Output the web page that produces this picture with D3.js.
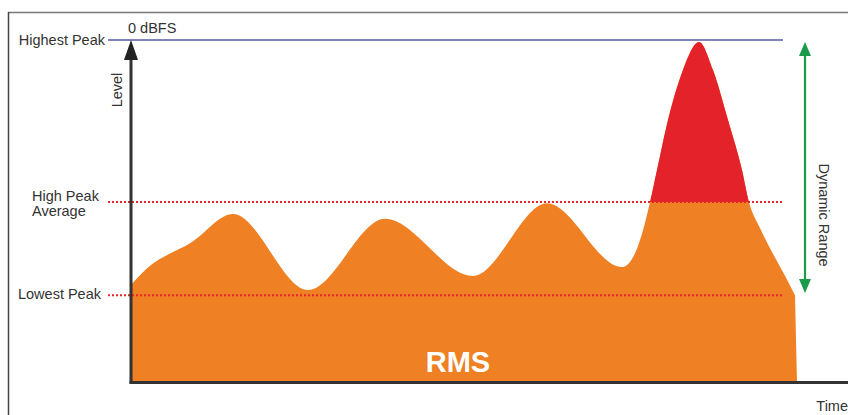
<!DOCTYPE html>
<html><head><meta charset="utf-8">
<script src="https://cdn.jsdelivr.net/npm/d3@7"></script>
<style>
body{margin:0;background:#fff;}
text{font-family:"Liberation Sans",Arial,sans-serif;}
</style></head>
<body><svg id="c" width="848" height="415"></svg>
<script>
// time (0..100) and level (0..100, 100 = 0 dBFS); waveform ends with a drop to 0 at time 100
const time  = [0, 2.10, 9.16, 15.32, 26.58, 38.14, 51.35, 62.46, 73.72, 75.38, 76.88, 77.93, 78.98, 80.63, 82.88, 85.29, 87.39, 89.64, 91.74, 92.79, 94.44, 96.25, 98.05, 99.70];
const level = [28.4, 32.7, 40.9, 49.1, 26.9, 47.7, 31.0, 52.3, 33.6, 36.5, 44.4, 52.6, 62.0, 76.6, 91.2, 99.4, 91.2, 76.6, 62.0, 52.6, 45.0, 38.0, 31.6, 25.4];
const endTime = 100;
const refNames  = ["Highest Peak", "High Peak Average", "Lowest Peak"];
const refLevels = [100, 52.6, 25.4];

const svg = d3.select("#c");
const x = d3.scaleLinear().domain([0,100]).range([131,797]);
const y = d3.scaleLinear().domain([0,100]).range([382,40]);
const pts = time.map((t,i)=>({t, v: level[i]}));

// frame
svg.append("line").attr("x1",8).attr("x2",848).attr("y1",12.5).attr("y2",12.5).attr("stroke","#777").attr("stroke-width",1.5);
svg.append("line").attr("x1",8.5).attr("x2",8.5).attr("y1",12).attr("y2",415).attr("stroke","#444").attr("stroke-width",1.5);

const line = d3.line().x(d=>x(d.t)).y(d=>y(d.v)).curve(d3.curveMonotoneX);
const shape = line(pts) + `L${x(endTime)},${y(0)}L${x(0)},${y(0)}Z`;
svg.append("path").attr("d",shape).attr("fill","#ef8024");
svg.append("clipPath").attr("id","top").append("rect").attr("x",0).attr("y",0).attr("width",848).attr("height",y(refLevels[1]));
svg.append("path").attr("d",shape).attr("fill","#e3222a").attr("clip-path","url(#top)");

// reference lines
svg.append("line").attr("x1",108).attr("x2",783).attr("y1",y(refLevels[0])).attr("y2",y(refLevels[0])).attr("stroke","#5a5aa0").attr("stroke-width",1.3);
[1,2].forEach(i=>{
  svg.append("line").attr("x1",108).attr("x2",783).attr("y1",y(refLevels[i])).attr("y2",y(refLevels[i]))
    .attr("stroke","#e5252a").attr("stroke-width",2).attr("stroke-dasharray","2,2");
});

// axes
svg.append("line").attr("x1",131).attr("x2",131).attr("y1",56).attr("y2",383.5).attr("stroke","#333").attr("stroke-width",3);
svg.append("path").attr("d","M131,40 L124,60 L138,60 Z").attr("fill","#222");
svg.append("line").attr("x1",129.5).attr("x2",848).attr("y1",382.5).attr("y2",382.5).attr("stroke","#333").attr("stroke-width",3);

// dynamic range arrow
const g = "#1a9a4a";
svg.append("line").attr("x1",805).attr("x2",805).attr("y1",52).attr("y2",283).attr("stroke",g).attr("stroke-width",2.2);
svg.append("path").attr("d","M805,42 L799,56 L811,56 Z").attr("fill",g);
svg.append("path").attr("d","M805,293 L799,279 L811,279 Z").attr("fill",g);

// text
const fs = 14.5;
const t = (s,xx,yy,anchor)=>svg.append("text").attr("x",xx).attr("y",yy).attr("text-anchor",anchor||"start").attr("font-size",fs).attr("fill","#333").text(s);
t("0 dBFS",128,33);
t(refNames[0],105,45,"end");
t("High Peak",32,201);
t("Average",32,216);
t(refNames[2],101,299,"end");
t("Time",848,411,"end");
svg.append("text").attr("transform","translate(122,90) rotate(-90)").attr("text-anchor","middle").attr("font-size",fs).attr("fill","#333").text("Level");
svg.append("text").attr("transform","translate(819,215) rotate(90)").attr("text-anchor","middle").attr("font-size",fs).attr("fill","#333").text("Dynamic Range");
svg.append("text").attr("x",458).attr("y",372).attr("text-anchor","middle").attr("font-size",29).attr("font-weight","bold")
  .attr("fill","#fff").style("font-family","'Liberation Sans Narrow','Arial Narrow',sans-serif").text("RMS");
</script></body></html>
